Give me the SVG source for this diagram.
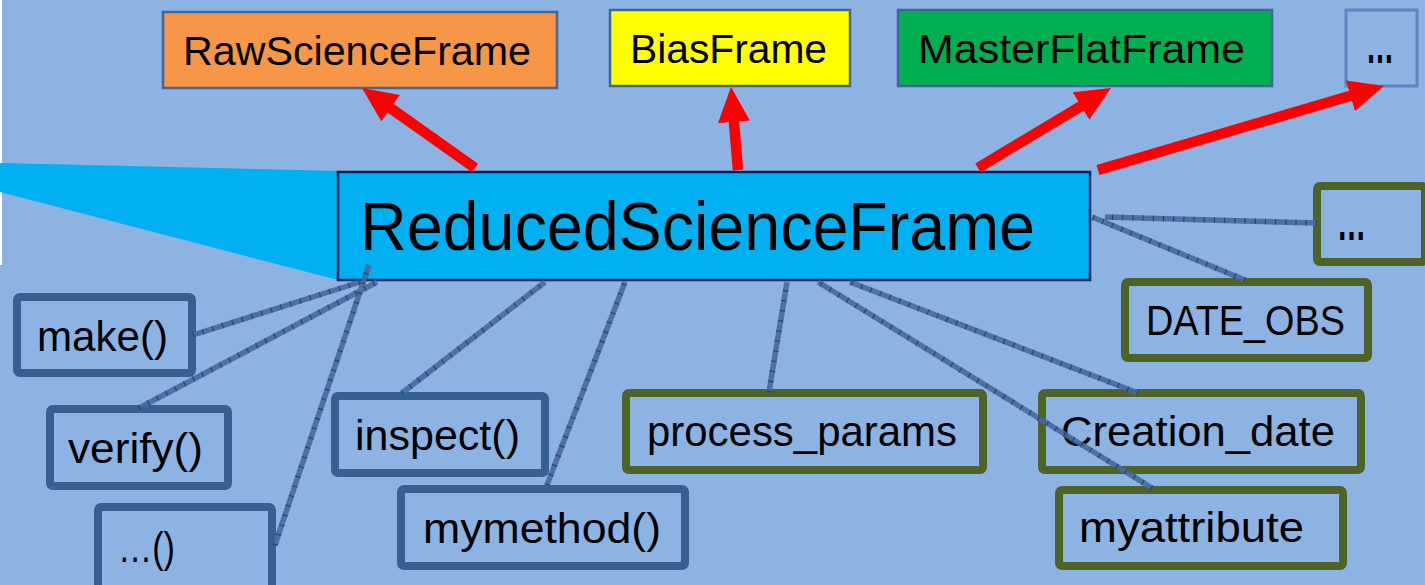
<svg xmlns="http://www.w3.org/2000/svg" width="1425" height="585" viewBox="0 0 1425 585">
<style>
text{font-family:"Liberation Sans",Arial,sans-serif;fill:#000}
.top{font-size:41px}
.sm{font-size:42px}
.ell{font-size:54px;font-weight:bold}
.tbox{stroke:#41679a;stroke-width:2.5}
.mbox{fill:none;stroke:#376092;stroke-width:8}
.abox{fill:none;stroke:#4F6228;stroke-width:8}
.red{stroke:#FF0000;stroke-width:10.5;fill:none;marker-end:url(#ah)}
.conn{stroke:#46699c;stroke-width:5.5;stroke-opacity:0.9;fill:none}
.tick{stroke:#1d3a68;stroke-width:5.5;stroke-dasharray:1.2 9;fill:none;stroke-opacity:0.8}
</style>
<defs>
<marker id="ah" markerUnits="userSpaceOnUse" markerWidth="35" markerHeight="32" viewBox="0 0 35 32" refX="10" refY="16" orient="auto">
<path d="M0,0 L35,16 L0,32 z" fill="#FF0000"/>
</marker>
</defs>
<rect x="0" y="0" width="1425" height="585" fill="#8DB3E2"/>
<rect x="0" y="0" width="2" height="265" fill="#ffffff"/>
<polygon points="0,163 338,171 338,280 0,192" fill="#00B0F0"/>

<g id="main">
<rect x="338" y="172" width="752" height="108" fill="#00B0F0" stroke="#002060" stroke-width="2.5"/>
<text x="360" y="250" font-size="68" textLength="675" lengthAdjust="spacingAndGlyphs">ReducedScienceFrame</text>
</g>

<g id="raw">
<rect class="tbox" x="163" y="12" width="394" height="76" fill="#F79646"/>
<text class="top" x="183" y="65" textLength="348" lengthAdjust="spacingAndGlyphs">RawScienceFrame</text>
</g>
<g id="bias">
<rect class="tbox" x="610" y="10" width="240" height="76" fill="#FFFF00"/>
<text class="top" x="630" y="63" textLength="197" lengthAdjust="spacingAndGlyphs">BiasFrame</text>
</g>
<g id="masterflat">
<rect class="tbox" x="898" y="10" width="374" height="76" fill="#00B050"/>
<text class="top" x="918" y="63" textLength="327" lengthAdjust="spacingAndGlyphs">MasterFlatFrame</text>
</g>
<g id="topmore">
<rect x="1346" y="10" width="71" height="76" fill="none" stroke="#5A87C2" stroke-width="3"/>
<text class="ell" x="1366" y="63" textLength="28" lengthAdjust="spacingAndGlyphs">…</text>
</g>

<g id="make">
<rect class="mbox" x="17" y="297" width="175" height="76" rx="3"/>
<text class="sm" x="37" y="351" textLength="131" lengthAdjust="spacingAndGlyphs">make()</text>
</g>
<g id="verify">
<rect class="mbox" x="50" y="409" width="178" height="77" rx="3"/>
<text class="sm" x="68" y="463" textLength="135" lengthAdjust="spacingAndGlyphs">verify()</text>
</g>
<g id="moremethods">
<rect class="mbox" x="98" y="507" width="174" height="90" rx="3"/>
<text class="sm" x="118" y="562" textLength="57" lengthAdjust="spacingAndGlyphs">…()</text>
</g>
<g id="inspect">
<rect class="mbox" x="335" y="396" width="210" height="77" rx="3"/>
<text class="sm" x="355" y="450" textLength="165" lengthAdjust="spacingAndGlyphs">inspect()</text>
</g>
<g id="mymethod">
<rect class="mbox" x="401" y="489" width="284" height="77" rx="3"/>
<text class="sm" x="423" y="543" textLength="238" lengthAdjust="spacingAndGlyphs">mymethod()</text>
</g>
<g id="process_params">
<rect class="abox" x="626" y="393" width="357" height="77" rx="3"/>
<text class="sm" x="647" y="446" textLength="310" lengthAdjust="spacingAndGlyphs">process_params</text>
</g>
<g id="creation_date">
<rect class="abox" x="1042" y="393" width="319" height="77" rx="3"/>
<text class="sm" x="1061" y="446" textLength="274" lengthAdjust="spacingAndGlyphs">Creation_date</text>
</g>
<g id="myattribute">
<rect class="abox" x="1059" y="490" width="284" height="76" rx="3"/>
<text class="sm" x="1079" y="542" textLength="225" lengthAdjust="spacingAndGlyphs">myattribute</text>
</g>
<g id="date_obs">
<rect class="abox" x="1125" y="282" width="243" height="76" rx="3"/>
<text class="sm" x="1146" y="335" textLength="199" lengthAdjust="spacingAndGlyphs">DATE_OBS</text>
</g>
<g id="moreattrs">
<rect class="abox" x="1317" y="186" width="108" height="76" rx="3"/>
<text class="ell" x="1337" y="240" textLength="29" lengthAdjust="spacingAndGlyphs">…</text>
</g>

<g id="connectors">
<path class="conn" d="M193,335 L360,282 M139,408 L377,282 M275,545 L369,265 M402,393 L545,282 M547,485 L625,282 M769,392 L787,282 M1152,488 L818,282 M1138,393 L850,282 M1245,280 L1092,217 M1317,223 L1105,217"/>
<path class="tick" d="M193,335 L360,282 M139,408 L377,282 M275,545 L369,265 M402,393 L545,282 M547,485 L625,282 M769,392 L787,282 M1152,488 L818,282 M1138,393 L850,282 M1245,280 L1092,217 M1317,223 L1105,217"/>
<line class="red" x1="475" y1="168" x2="382.4" y2="102.4"/>
<line class="red" x1="738" y1="170" x2="733.1" y2="111.9"/>
<line class="red" x1="978" y1="168" x2="1089.6" y2="100.9"/>
<line class="red" x1="1098" y1="170" x2="1360" y2="93"/>
</g>
</svg>
